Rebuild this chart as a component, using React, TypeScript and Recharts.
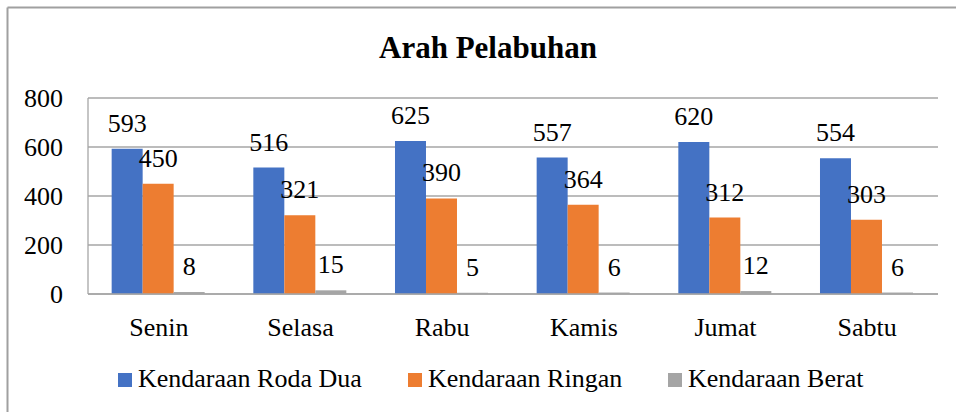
import React from "react";
import { BarChart, Bar, XAxis, YAxis, CartesianGrid, LabelList } from "recharts";

const categories = ["Senin", "Selasa", "Rabu", "Kamis", "Jumat", "Sabtu"];
const rodaDua = [593, 516, 625, 557, 620, 554];
const ringan = [450, 321, 390, 364, 312, 303];
const berat = [8, 15, 5, 6, 12, 6];
const yTicks = [0, 200, 400, 600, 800];

const seriesDefs = [
  { key: "rodaDua", name: "Kendaraan Roda Dua", color: "#4472C4", values: rodaDua },
  { key: "ringan", name: "Kendaraan Ringan", color: "#ED7D31", values: ringan },
  { key: "berat", name: "Kendaraan Berat", color: "#A5A5A5", values: berat },
];

const data = categories.map((c, i) => {
  const row: any = { name: c };
  seriesDefs.forEach((s) => (row[s.key] = s.values[i]));
  return row;
});

const FONT = '"Liberation Serif", "Times New Roman", serif';
const GRID = "#a6a6a6";

const renderLabel = (props: any) => {
  const { x, y, width, value } = props;
  return (
    <text
      x={Number(x) + Number(width) / 2}
      y={Number(y) - 17}
      textAnchor="middle"
      fontSize={26}
      fontFamily={FONT}
      fill="#000"
    >
      {value}
    </text>
  );
};

const legendX = [118, 408, 668];

export default function App() {
  return (
    <div style={{ position: "absolute", left: 0, top: 0, width: 956, height: 412, background: "#fff" }}>
      <BarChart
        width={956}
        height={412}
        data={data}
        margin={{ top: 98, right: 18, bottom: 88, left: 0 }}
        barCategoryGap="16.7%"
        barGap={0}
      >
        <CartesianGrid vertical={false} stroke={GRID} strokeWidth={1.3} />
        <XAxis
          dataKey="name"
          height={30}
          tickLine={false}
          tickSize={0}
          tickMargin={24}
          axisLine={{ stroke: GRID, strokeWidth: 1.3 }}
          tick={{ fontSize: 26, fontFamily: FONT, fill: "#000" }}
          interval={0}
        />
        <YAxis
          width={88}
          domain={[0, 800]}
          ticks={yTicks}
          tickLine={false}
          tickSize={0}
          tickMargin={25}
          axisLine={{ stroke: GRID, strokeWidth: 1.3 }}
          tick={{ fontSize: 26, fontFamily: FONT, fill: "#000" }}
          interval={0}
        />
        {seriesDefs.map((s) => (
          <Bar key={s.key} dataKey={s.key} name={s.name} fill={s.color} isAnimationActive={false}>
            <LabelList dataKey={s.key} content={renderLabel} />
          </Bar>
        ))}
      </BarChart>
      <svg
        width={956}
        height={412}
        style={{ position: "absolute", left: 0, top: 0, pointerEvents: "none" }}
      >
        <line x1={7.5} y1={7.5} x2={956} y2={7.5} stroke="#a0a0a0" strokeWidth={2} />
        <line x1={7.5} y1={7.5} x2={7.5} y2={412} stroke="#a0a0a0" strokeWidth={2} />
        <text x={488} y={58} textAnchor="middle" fontSize={31} fontWeight="bold" fontFamily={FONT} fill="#000">
          Arah Pelabuhan
        </text>
        {seriesDefs.map((s, i) => (
          <g key={s.key}>
            <rect x={legendX[i]} y={373} width={14} height={14} fill={s.color} />
            <text x={legendX[i] + 20} y={387} fontSize={26} fontFamily={FONT} fill="#000">
              {s.name}
            </text>
          </g>
        ))}
      </svg>
    </div>
  );
}
